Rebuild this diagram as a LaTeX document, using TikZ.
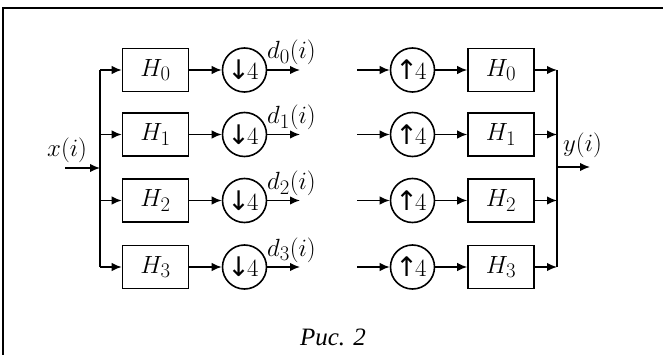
\documentclass[tikz,border=0pt]{standalone}
\usepackage{fontspec}
\setmainfont{Liberation Serif}
\newfontfamily\arrowfont{DejaVu Sans}
\usetikzlibrary{arrows.meta}
\begin{document}
\begin{tikzpicture}[x=1pt,y=-1pt,
  ln/.style={line width=1.6pt},
  arr/.style={ln,-{Latex[length=10pt,width=8.5pt]}},
  bus/.style={line width=2.2pt},
  filt/.style={draw,ln,minimum width=66pt,minimum height=43pt,inner sep=0pt,font=\fontsize{24.88}{30}\selectfont},
  rate/.style={draw,ln,circle,minimum size=44pt,inner sep=0pt,font=\fontsize{24.88}{30}\selectfont},
  lbl/.style={inner sep=0pt,font=\fontsize{24.88}{30}\selectfont}]
\useasboundingbox (0,0) rectangle (663,355);
% frame
\draw[line width=2pt] (3,355) -- (3,8) -- (663,8);
% rows
\foreach \k/\y in {0/70,1/134.5,2/200.5,3/267}{
  \node[filt] (H\k) at (155.5,\y) {$H_\k$};
  \node[rate] (D\k) at (244.5,\y) {{\arrowfont\fontsize{27}{30}\selectfont\kern-3pt↓\kern-3pt}$4$};
  \coordinate (bl\k) at (100,\y);
  \coordinate (do\k) at (300,\y);
  \draw[arr] (bl\k) -- (H\k);
  \draw[arr] (H\k) -- (D\k);
  \draw[arr] (D\k) -- (do\k);
  \node[lbl,anchor=base west] (dl\k) at (267,\y-11) {$d_\k(i)$};
  \coordinate (ri\k) at (357,\y);
  \node[rate] (U\k) at (412.5,\y) {{\arrowfont\fontsize{27}{30}\selectfont\kern-3pt↑\kern-3pt}$4$};
  \node[filt] (G\k) at (501,\y) {$H_\k$};
  \coordinate (br\k) at (557,\y);
  \draw[arr] (ri\k) -- (U\k);
  \draw[arr] (U\k) -- (G\k);
  \draw[arr] (G\k) -- (br\k);
}
\draw[bus] (bl0) -- (bl3);
\draw[bus] (br0) -- (br3);
\coordinate (xin) at (65,168);
\coordinate (bin) at (100,168);
\draw[arr] (xin) -- (bin);
\node[lbl,anchor=base west] (xl) at (47,157) {$x(i)$};
\coordinate (bout) at (557,167);
\coordinate (yout) at (590,167);
\draw[arr] (bout) -- (yout);
\node[lbl,anchor=base west] (yl) at (563,152) {$y(i)$};
\node[lbl,anchor=base] (cap) at (333,345) {\fontsize{25}{30}\selectfont\itshape Рис. 2};
\end{tikzpicture}
\end{document}
